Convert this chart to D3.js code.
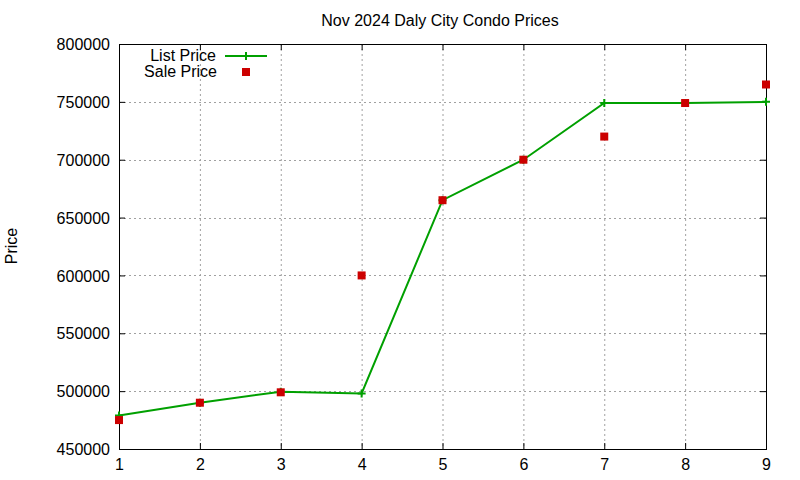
<!DOCTYPE html>
<html><head><meta charset="utf-8">
<script src="https://cdn.jsdelivr.net/npm/d3@7"></script>
<style>body{margin:0;background:#fff}svg{display:block;font-family:"Liberation Sans",Arial,sans-serif}</style>
</head><body><svg id="c" width="800" height="480"></svg>
<script>
const months = [1,2,3,4,5,6,7,8,9];
const listPrice = [479000,490000,499500,498000,665000,700000,749000,749000,750000];
const salePrice = [475000,490000,499000,600000,665000,700000,720000,749000,765000];
const yTicks = [450000,500000,550000,600000,650000,700000,750000,800000];
const title = "Nov 2024 Daly City Condo Prices";
const yLabel = "Price";
const seriesNames = ["List Price","Sale Price"];

const svg = d3.select("#c");
const L=119,R=766,T=44,B=449;
const x = d3.scaleLinear().domain([1,9]).range([L,R]);
const y = d3.scaleLinear().domain([450000,800000]).range([B,T]);
const green="#00a000", red="#cc0000";

// grid
const g = svg.append("g");
g.selectAll(".gx").data(months.slice(1,-1)).join("line")
  .attr("x1",d=>x(d)+0.5).attr("x2",d=>x(d)+0.5).attr("y1",T).attr("y2",B)
  .attr("stroke","#a0a0a0").attr("stroke-dasharray","2,3").attr("stroke-width",1);
g.selectAll(".gy").data(yTicks.slice(1,-1)).join("line")
  .attr("y1",d=>Math.round(y(d))+0.5).attr("y2",d=>Math.round(y(d))+0.5).attr("x1",L).attr("x2",R)
  .attr("stroke","#a0a0a0").attr("stroke-dasharray","2,3").attr("stroke-width",1);

// axes
const ax = svg.append("g").attr("transform",`translate(0,${B})`)
  .call(d3.axisBottom(x).tickValues(months).tickSize(-6).tickPadding(10).tickFormat(d3.format("d")));
const ay = svg.append("g").attr("transform",`translate(${L},0)`)
  .call(d3.axisLeft(y).tickValues(yTicks).tickSize(-6).tickPadding(9).tickFormat(d3.format("d")));
svg.append("g").attr("transform",`translate(0,${T})`)
  .call(d3.axisTop(x).tickValues(months).tickSize(-6).tickFormat(""));
svg.append("g").attr("transform",`translate(${R},0)`)
  .call(d3.axisRight(y).tickValues(yTicks).tickSize(-6).tickFormat(""));
svg.selectAll(".domain").remove();
svg.selectAll(".tick line").attr("stroke","#000");
svg.selectAll(".tick text").attr("font-size",16).attr("fill","#000").attr("font-family","Liberation Sans, Arial, sans-serif");
ay.selectAll(".tick text").attr("dy","0.35em");
ax.selectAll(".tick text").attr("dy","0.71em");
svg.append("rect").attr("x",L+0.5).attr("y",T+0.5).attr("width",R-L).attr("height",B-T)
  .attr("fill","none").attr("stroke","#000").attr("stroke-width",1);

// list line
const line = d3.line().x((d,i)=>x(months[i])).y(d=>y(d));
svg.append("path").datum(listPrice).attr("d",line).attr("fill","none")
  .attr("stroke",green).attr("stroke-width",2);
svg.selectAll(".lp").data(listPrice).join("path")
  .attr("d",(d,i)=>`M${x(months[i])-4},${y(d)}h8M${x(months[i])},${y(d)-4}v8`)
  .attr("stroke",green).attr("stroke-width",2);
// sale markers
svg.selectAll(".sp").data(salePrice).join("rect")
  .attr("x",(d,i)=>x(months[i])-4).attr("y",d=>y(d)-4).attr("width",8).attr("height",8)
  .attr("fill",red);

// title & labels
svg.append("text").attr("x",440).attr("y",26).attr("text-anchor","middle")
  .attr("font-size",16).text(title);
svg.append("text").attr("transform","translate(17,246) rotate(-90)").attr("text-anchor","middle")
  .attr("font-size",16).text(yLabel);

// legend
const lg = svg.append("g");
lg.append("text").attr("x",216).attr("y",61).attr("text-anchor","end").attr("font-size",16).text(seriesNames[0]);
lg.append("text").attr("x",217).attr("y",77).attr("text-anchor","end").attr("font-size",16).text(seriesNames[1]);
lg.append("line").attr("x1",225).attr("x2",267).attr("y1",56).attr("y2",56).attr("stroke",green).attr("stroke-width",2);
lg.append("path").attr("d","M242,56h8M246,52v8").attr("stroke",green).attr("stroke-width",2);
lg.append("rect").attr("x",242).attr("y",68).attr("width",8).attr("height",8).attr("fill",red);
</script></body></html>
